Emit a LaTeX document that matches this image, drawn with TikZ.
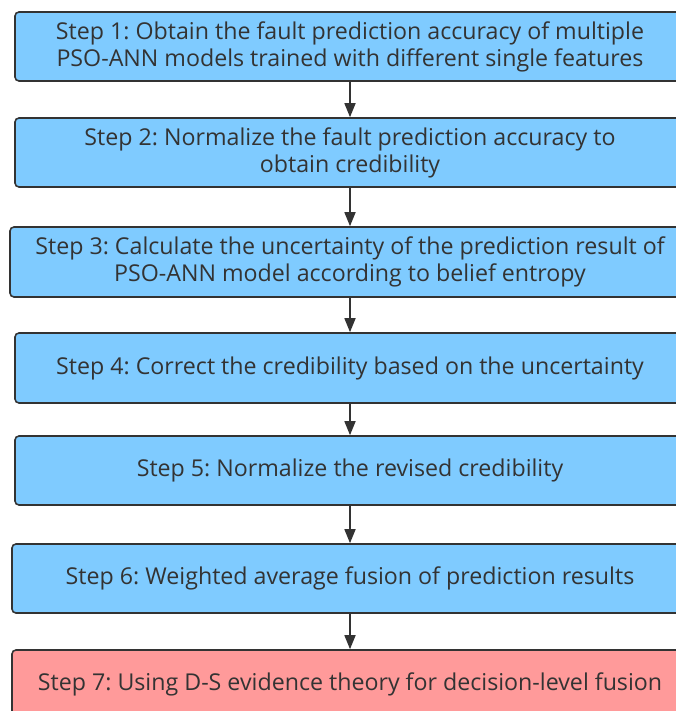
\documentclass[tikz,border=0pt]{standalone}
\usepackage{fontspec}
\setmainfont{Open Sans}
\usetikzlibrary{arrows.meta}
\definecolor{boxblue}{HTML}{7FCBFF}
\definecolor{boxred}{HTML}{FF9A9A}
\definecolor{linegray}{HTML}{333333}
\definecolor{textgray}{HTML}{333333}
\tikzset{
  stepbox/.style={draw=linegray, line width=1.6pt, rounded corners=4pt, fill=boxblue,
    text=textgray, align=center, inner sep=0pt, font=\frenchspacing\fontsize{23.2}{27}\selectfont},
  redbox/.style={stepbox, fill=boxred},
  flow/.style={draw=linegray, line width=1.6pt, -{Triangle[width=11pt,length=14pt]}, color=linegray}
}
\begin{document}
\begin{tikzpicture}[x=1pt,y=-1pt]
\useasboundingbox (0,0) rectangle (676,711);
\clip (0,0) rectangle (676,711);
\node[stepbox, minimum width=670pt, minimum height=69pt] (s1) at (350,46.5)
  {Step 1: Obtain the fault prediction accuracy of multiple\\PSO-ANN models trained with different single features};
\node[stepbox, minimum width=670pt, minimum height=69pt] (s2) at (350,152.5)
  {Step 2: Normalize the fault prediction accuracy to\\obtain credibility};
\node[stepbox, minimum width=680pt, minimum height=70pt] (s3) at (350,262)
  {Step 3: Calculate the uncertainty of the prediction result of\\PSO-ANN model according to belief entropy};
\node[stepbox, minimum width=670pt, minimum height=70pt] (s4) at (350,368)
  {Step 4: Correct the credibility based on the uncertainty};
\node[stepbox, minimum width=670pt, minimum height=69pt] (s5) at (350,470.5)
  {Step 5: Normalize the revised credibility};
\node[stepbox, minimum width=676pt, minimum height=69pt] (s6) at (350,578.5)
  {Step 6: Weighted average fusion of prediction results};
\node[redbox, minimum width=676pt, minimum height=69pt] (s7) at (350,684.5)
  {Step 7: Using D-S evidence theory for decision-level fusion};
\draw[flow] (s1) -- (s2);
\draw[flow] (s2) -- (s3);
\draw[flow] (s3) -- (s4);
\draw[flow] (s4) -- (s5);
\draw[flow] (s5) -- (s6);
\draw[flow] (s6) -- (s7);
\end{tikzpicture}
\end{document}
